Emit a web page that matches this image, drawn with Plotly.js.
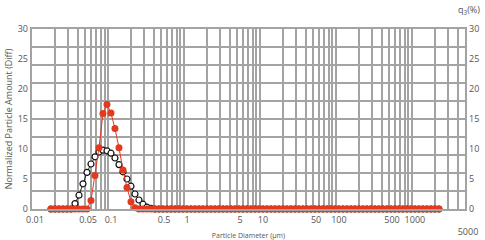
<!DOCTYPE html>
<html>
<head>
<meta charset="utf-8">
<script src="https://cdn.plot.ly/plotly-3.0.1.min.js"></script>
<style>html,body{margin:0;padding:0;background:#fff;}#chart{width:485px;height:240px;}</style>
</head>
<body>
<div id="chart"></div>
<script>
// Particle diameter bins (µm), 19 bins per decade
var diameters = [
  0.01778, 0.02007, 0.02266, 0.02558, 0.02888, 0.03260, 0.03680, 0.04154, 0.04689, 0.05293, 0.05975, 0.06745, 0.07614, 0.08595, 0.09702,
  0.1095, 0.1236, 0.1396, 0.1575, 0.1778, 0.2007, 0.2266, 0.2558, 0.2888, 0.3260, 0.3680, 0.4154, 0.4689, 0.5293, 0.5975, 0.6745, 0.7614, 0.8595, 0.9702,
  1.095, 1.236, 1.396, 1.575, 1.778, 2.007, 2.266, 2.558, 2.888, 3.260, 3.680, 4.154, 4.689, 5.293, 5.975, 6.745, 7.614, 8.595, 9.702,
  10.95, 12.36, 13.96, 15.75, 17.78, 20.07, 22.66, 25.58, 28.88, 32.60, 36.80, 41.54, 46.89, 52.93, 59.75, 67.45, 76.14, 85.95, 97.02,
  109.5, 123.6, 139.6, 157.5, 177.8, 200.7, 226.6, 255.8, 288.8, 326.0, 368.0, 415.4, 468.9, 529.3, 597.5, 674.5, 761.4, 859.5, 970.2,
  1095, 1236, 1396, 1575, 1778, 2007, 2266
];
// Red series (filled circles)
var redValues = [
  0, 0, 0, 0, 0, 0, 0, 0, 0, 0, 1.4, 5.6, 10.2, 15.9, 17.4,
  16.0, 13.4, 10.2, 6.5, 3.6, 1.2, 0.2, 0, 0, 0, 0, 0, 0, 0, 0, 0, 0, 0, 0,
  0, 0, 0, 0, 0, 0, 0, 0, 0, 0, 0, 0, 0, 0, 0, 0, 0, 0, 0,
  0, 0, 0, 0, 0, 0, 0, 0, 0, 0, 0, 0, 0, 0, 0, 0, 0, 0, 0,
  0, 0, 0, 0, 0, 0, 0, 0, 0, 0, 0, 0, 0, 0, 0, 0, 0, 0, 0,
  0, 0, 0, 0, 0, 0, 0
];
// Black series (open circles)
var blackValues = [
  0, 0, 0, 0, 0, 0, 0.9, 2.3, 4.2, 6.1, 7.5, 8.7, 9.5, 9.8, 9.7,
  9.3, 8.5, 7.4, 6.2, 5.0, 3.8, 2.5, 1.5, 0.8, 0.3, 0.1, 0, 0, 0, 0, 0, 0, 0, 0,
  0, 0, 0, 0, 0, 0, 0, 0, 0, 0, 0, 0, 0, 0, 0, 0, 0, 0, 0,
  0, 0, 0, 0, 0, 0, 0, 0, 0, 0, 0, 0, 0, 0, 0, 0, 0, 0, 0,
  0, 0, 0, 0, 0, 0, 0, 0, 0, 0, 0, 0, 0, 0, 0, 0, 0, 0, 0,
  0, 0, 0, 0, 0, 0, 0
];
var xLabelVals = [0.01, 0.05, 0.1, 0.5, 1, 5, 10, 50, 100, 500, 1000, 5000];
var xLabelText = ['0.01', '0.05', '0.1', '0.5', '1', '5', '10', '50', '100', '500', '1000', '<br>5000'];
var yLabelVals = [0, 5, 10, 15, 20, 25, 30];

// gridline positions 1..9 per decade up to 5000
var gridVals = [], gridText = [];
for (var e = -2; e <= 3; e++) {
  for (var m = 1; m <= 9; m++) {
    var v = m * Math.pow(10, e);
    if (v > 5000.001) break;
    gridVals.push(v);
    var t = '';
    for (var i = 0; i < xLabelVals.length; i++) {
      if (Math.abs(xLabelVals[i] - v) / v < 1e-6) t = xLabelText[i];
    }
    gridText.push(t);
  }
}

var gridColor = '#a3a3a3';
var textColor = '#555555';
var red = '#e2391f';
var fontFam = '"Open Sans", "Segoe UI", sans-serif';

var traces = [
  {
    x: diameters, y: blackValues, type: 'scatter', mode: 'lines+markers',
    line: {color: '#222222', width: 1},
    marker: {symbol: 'circle', size: 6, color: '#ffffff', line: {color: '#111111', width: 1.2}},
    cliponaxis: false, hoverinfo: 'skip', xaxis: 'x', yaxis: 'y'
  },
  {
    x: diameters, y: redValues, type: 'scatter', mode: 'lines+markers',
    line: {color: red, width: 1},
    marker: {symbol: 'circle', size: 7, color: red},
    cliponaxis: false, hoverinfo: 'skip', xaxis: 'x', yaxis: 'y'
  },
  // invisible traces so the label-only overlay axes are drawn
  {x: diameters, y: redValues, type: 'scatter', mode: 'lines', opacity: 0, line: {width: 0},
   hoverinfo: 'skip', xaxis: 'x', yaxis: 'y2'},
  {x: diameters, y: redValues, type: 'scatter', mode: 'lines', opacity: 0, line: {width: 0},
   hoverinfo: 'skip', xaxis: 'x', yaxis: 'y3'}
];

var layout = {
  width: 485, height: 240,
  margin: {l: 32, r: 20, t: 29, b: 31, pad: 0},
  paper_bgcolor: '#ffffff', plot_bgcolor: '#ffffff',
  showlegend: false,
  font: {family: fontFam, size: 9, color: textColor},
  xaxis: {
    type: 'log', range: [-2, Math.log10(5000)],
    tickmode: 'array', tickvals: gridVals, ticktext: gridText,
    showgrid: true, gridcolor: gridColor, gridwidth: 2,
    ticks: '', ticklabelshift: 3, ticklabelstandoff: 1,
    tickfont: {family: fontFam, size: 9, color: textColor},
    zeroline: false, showline: true, linecolor: gridColor, linewidth: 2, mirror: true,
    title: {text: 'Particle Diameter (µm)', font: {family: fontFam, size: 7, color: textColor}, standoff: 2}
  },
  yaxis: {
    range: [0, 30], dtick: 3, tick0: 0,
    showgrid: true, gridcolor: gridColor, gridwidth: 2,
    showticklabels: false, ticks: '', zeroline: false,
    showline: true, linecolor: gridColor, linewidth: 2, mirror: true
  },
  yaxis2: {
    range: [0, 30], overlaying: 'y', side: 'left', anchor: 'x',
    tickmode: 'array', tickvals: yLabelVals,
    showgrid: false, zeroline: false, ticks: '', showline: false,
    ticklabelstandoff: 3,
    tickfont: {family: fontFam, size: 9, color: textColor},
    title: {text: 'Normalized Particle Amount (Diff)', font: {family: fontFam, size: 9, color: textColor}, standoff: 3}
  },
  yaxis3: {
    range: [0, 30], overlaying: 'y', side: 'right', anchor: 'x',
    tickmode: 'array', tickvals: yLabelVals,
    showgrid: false, zeroline: false, ticks: '', showline: false,
    ticklabelstandoff: 3,
    tickfont: {family: fontFam, size: 9, color: textColor}
  },
  annotations: [
    {text: 'q<sub>3</sub>(%)', xref: 'paper', yref: 'paper', x: 1.04, y: 1.0, yshift: 19,
     xanchor: 'right', yanchor: 'middle', showarrow: false,
     font: {family: fontFam, size: 9, color: textColor}}
  ]
};

Plotly.newPlot('chart', traces, layout, {displayModeBar: false, staticPlot: true});
</script>
</body>
</html>
